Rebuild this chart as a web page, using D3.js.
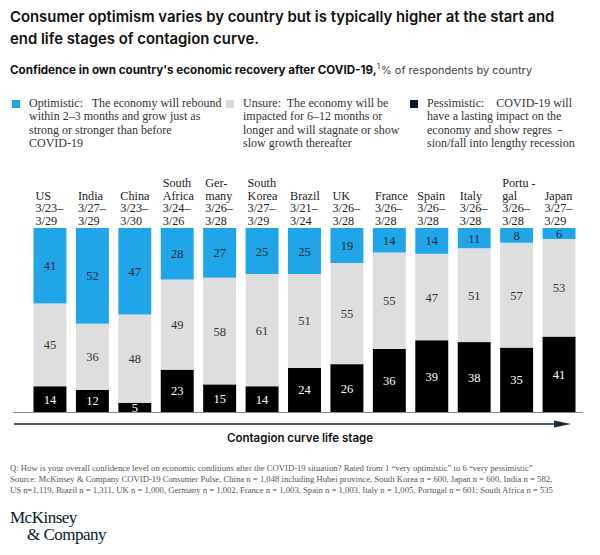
<!DOCTYPE html>
<html><head><meta charset="utf-8">
<script src="https://cdn.jsdelivr.net/npm/d3@7"></script>
<style>body{margin:0;background:#fff}svg{display:block}text{white-space:pre}</style>
</head><body><div id="chart"></div>
<script>
// ---- data ----
const countries = ["US","India","China","South Africa","Germany","South Korea","Brazil","UK","France","Spain","Italy","Portugal","Japan"];
const nameLines = [["US"],["India"],["China"],["South","Africa"],["Ger-","many"],["South","Korea"],["Brazil"],["UK"],["France"],["Spain"],["Italy"],["Portu -","gal"],["Japan"]];
const dateFrom = ["3/23–","3/27–","3/23–","3/24–","3/26–","3/27–","3/21–","3/26–","3/26–","3/26–","3/26–","3/26–","3/27–"];
const dateTo   = ["3/29","3/29","3/30","3/26","3/28","3/29","3/24","3/28","3/28","3/28","3/28","3/28","3/29"];
const optimistic  = [41,52,47,28,27,25,25,19,14,14,11,8,6];
const unsure      = [45,36,48,49,58,61,51,55,55,47,51,57,53];
const pessimistic = [14,12,5,23,15,14,24,26,36,39,38,35,41];
const seriesKeys = ["pessimistic","unsure","optimistic"];
const legendText = [
  ["Optimistic:   The economy will rebound","within 2–3 months and grow just as","strong or stronger than before","COVID-19"],
  ["Unsure:  The economy will be","impacted for 6–12 months or","longer and will stagnate or show","slow growth thereafter"],
  ["Pessimistic:    COVID-19 will","have a lasting impact on the","economy and show regres  -","sion/fall into lengthy recession"]
];
const footnotes = [
  "Q: How is your overall confidence level on economic conditions after the COVID-19 situation? Rated from 1 “very optimistic” to 6 “very pessimistic”",
  "Source: McKinsey & Company COVID-19 Consumer Pulse, China n = 1,048 including Hubei province, South Korea n = 600, Japan n = 600, India n = 582,",
  "US n=1,119, Brazil n = 1,311, UK n = 1,000, Germany n = 1,002, France n = 1,003, Spain n = 1,003, Italy n = 1,005, Portugal n = 601; South Africa n = 535"
];

// ---- setup ----
const W = 600, H = 555;
const svg = d3.select("#chart").append("svg").attr("width", W).attr("height", H);
const SANS = "Inter, 'Liberation Sans', Arial, sans-serif";
const SERIF = "'Liberation Serif', 'Times New Roman', serif";
const colors = {optimistic:"#1fa5e8", unsure:"#dedede", pessimistic:"#000000"};
const legendColors = ["#1fa5e8","#d9d9d9","#0d1b2a"];
const textColors = {optimistic:"#1d2b3a", unsure:"#333333", pessimistic:"#ffffff"};

function fit(sel, target){
  const n = sel.node(); const len = n.getComputedTextLength();
  const fs = parseFloat(sel.attr("font-size"));
  sel.attr("font-size", (fs*target/len).toFixed(2));
}

// title
const t1 = svg.append("text").attr("x",10).attr("y",22).attr("font-family",SANS).attr("font-weight",600)
  .attr("font-size",15).attr("fill","#111").text("Consumer optimism varies by country but is typically higher at the start and");
fit(t1, 545);
const fsT = t1.attr("font-size");
svg.append("text").attr("x",10).attr("y",44).attr("font-family",SANS).attr("font-weight",600)
  .attr("font-size",fsT).attr("fill","#111").text("end life stages of contagion curve.");

// subtitle
const subB = svg.append("text").attr("x",10).attr("y",74).attr("font-family",SANS).attr("font-size",12)
  .attr("font-weight",700).attr("fill","#111").text("Confidence in own country's economic recovery after COVID-19,");
fit(subB, 367);
const fsS = +subB.attr("font-size");
svg.append("text").attr("x",377).attr("y",69).attr("font-family",SANS).attr("font-size",fsS*0.6).attr("fill","#111").text("1");
const subR = svg.append("text").attr("x",381).attr("y",74).attr("font-family",SANS).attr("font-size",fsS).attr("fill","#444").text("% of respondents by country");
fit(subR, 151);

// legend
const legX = [12, 226, 410];
legendText.forEach((lines,i)=>{
  svg.append("rect").attr("x",legX[i]).attr("y",100).attr("width",8).attr("height",8).attr("fill",legendColors[i]);
  const tx = svg.append("text").attr("font-family",SERIF).attr("font-size",12).attr("fill","#333");
  lines.forEach((l,j)=>tx.append("tspan").attr("x",legX[i]+17).attr("y",107+j*13.4).text(l));
});

// scales
const x = d3.scaleBand().domain(countries).range([13,596]).paddingInner(0.2235).paddingOuter(0.483);
const y = d3.scaleLinear().domain([0,1]).range([412,228]);

const rows = countries.map((c,i)=>({country:c, optimistic:optimistic[i], unsure:unsure[i], pessimistic:pessimistic[i]}));
const stack = d3.stack().keys(seriesKeys).offset(d3.stackOffsetExpand);
const series = stack(rows);

const g = svg.append("g");
series.forEach(s=>{
  const key = s.key;
  g.selectAll(null).data(s).join("rect")
    .attr("x",d=>x(d.data.country)).attr("width",x.bandwidth())
    .attr("y",d=>y(d[1])).attr("height",d=>y(d[0])-y(d[1]))
    .attr("fill",colors[key]);
  g.selectAll(null).data(s).join("text")
    .attr("x",d=>x(d.data.country)+x.bandwidth()/2)
    .attr("y",d=>(y(d[0])+y(d[1]))/2+4.5)
    .attr("text-anchor","middle").attr("font-family",SERIF).attr("font-size",12.5)
    .attr("fill",textColors[key]).text(d=>d.data[key]);
});

// column labels
countries.forEach((c,i)=>{
  const lines = nameLines[i].concat([dateFrom[i], dateTo[i]]);
  const tx = svg.append("text").attr("font-family",SERIF).attr("font-size",12.2).attr("fill","#222");
  const n = lines.length;
  lines.forEach((l,j)=>tx.append("tspan").attr("x",x(c)+2).attr("y",225-(n-1-j)*12.7).text(l));
});

// baseline
svg.append("line").attr("x1",13).attr("x2",583).attr("y1",412.5).attr("y2",412.5).attr("stroke","#8a8a8a").attr("stroke-width",1);

// arrow
svg.append("line").attr("x1",14).attr("x2",556).attr("y1",424).attr("y2",424).attr("stroke","#1c2a38").attr("stroke-width",1.5);
svg.append("path").attr("d","M554,420.5 L571,424 L554,427.5 Z").attr("fill","#1c2a38");

svg.append("text").attr("x",300).attr("y",442).attr("text-anchor","middle").attr("font-family",SANS)
  .attr("font-weight",600).attr("font-size",11.5).attr("fill","#111").text("Contagion curve life stage");

// footnotes
const fn = footnotes.map((f,i)=>svg.append("text").attr("x",10).attr("y",471+i*11).attr("font-family",SERIF)
  .attr("font-size",9).attr("fill","#555").text(f));
fit(fn[1], 543);
const fsF = fn[1].attr("font-size");
fn.forEach(t=>t.attr("font-size",fsF));

// logo
svg.append("text").attr("x",10).attr("y",523).attr("font-family",SERIF).attr("font-size",17).attr("fill","#051c2c").attr("letter-spacing",-0.5).text("McKinsey");
svg.append("text").attr("x",27).attr("y",540).attr("font-family",SERIF).attr("font-size",17).attr("fill","#051c2c").attr("letter-spacing",-0.5).text("& Company");
</script></body></html>
